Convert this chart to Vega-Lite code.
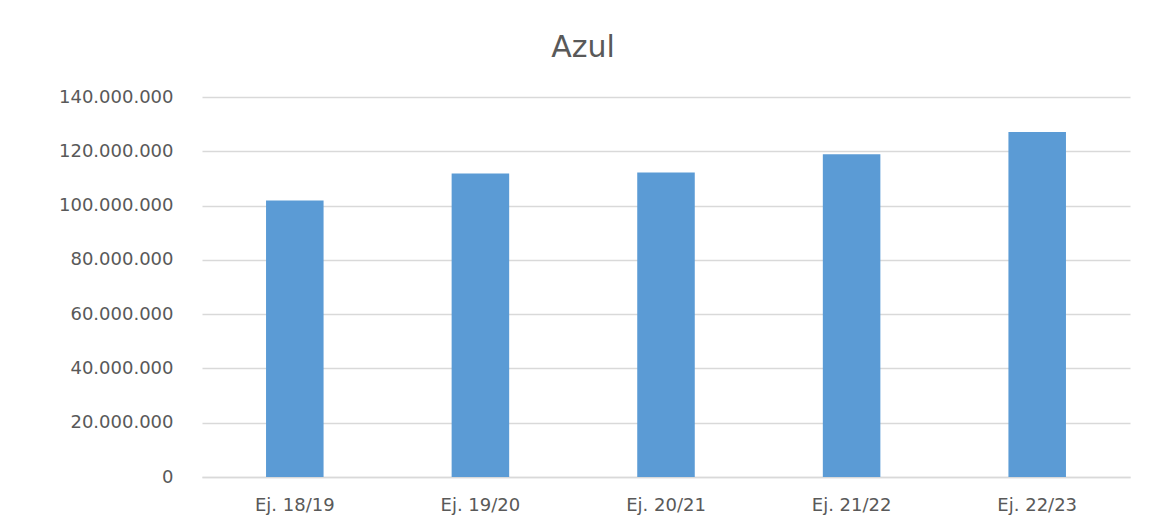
{
  "$schema": "https://vega.github.io/schema/vega-lite/v6.json",
  "width": 928,
  "height": 380,
  "autosize": {"type": "none"},
  "padding": {"left": 202, "top": 97, "right": 33, "bottom": 55},
  "background": "white",
  "config": {
    "locale": {"number": {"decimal": ",", "thousands": ".", "grouping": [3], "currency": ["", " €"]}},
    "view": {"stroke": null},
    "font": "DejaVu Sans"
  },
  "title": {
    "text": "Azul",
    "font": "DejaVu Sans",
    "fontSize": 30,
    "fontWeight": "normal",
    "color": "#595959",
    "anchor": "middle",
    "dx": -83,
    "offset": 25
  },
  "data": {
    "values": [
      {"ejercicio": "Ej. 18/19", "valor": 101900000},
      {"ejercicio": "Ej. 19/20", "valor": 111800000},
      {"ejercicio": "Ej. 20/21", "valor": 112200000},
      {"ejercicio": "Ej. 21/22", "valor": 118900000},
      {"ejercicio": "Ej. 22/23", "valor": 127100000}
    ]
  },
  "mark": {"type": "bar", "color": "#5b9bd5"},
  "encoding": {
    "x": {
      "field": "ejercicio",
      "type": "nominal",
      "sort": null,
      "scale": {"paddingInner": 0.69, "paddingOuter": 0.345},
      "axis": {
        "title": null,
        "labelAngle": 0,
        "labelFontSize": 18,
        "labelColor": "#595959",
        "labelPadding": 19,
        "ticks": false,
        "domain": true,
        "domainColor": "#d9d9d9",
        "domainWidth": 1.5
      }
    },
    "y": {
      "field": "valor",
      "type": "quantitative",
      "scale": {"domain": [0, 140000000], "nice": false},
      "axis": {
        "title": null,
        "values": [0, 20000000, 40000000, 60000000, 80000000, 100000000, 120000000, 140000000],
        "format": ",d",
        "labelFontSize": 18,
        "labelColor": "#595959",
        "labelPadding": 29,
        "ticks": false,
        "domain": false,
        "grid": true,
        "gridColor": "#d9d9d9",
        "gridWidth": 1.5
      }
    }
  }
}
